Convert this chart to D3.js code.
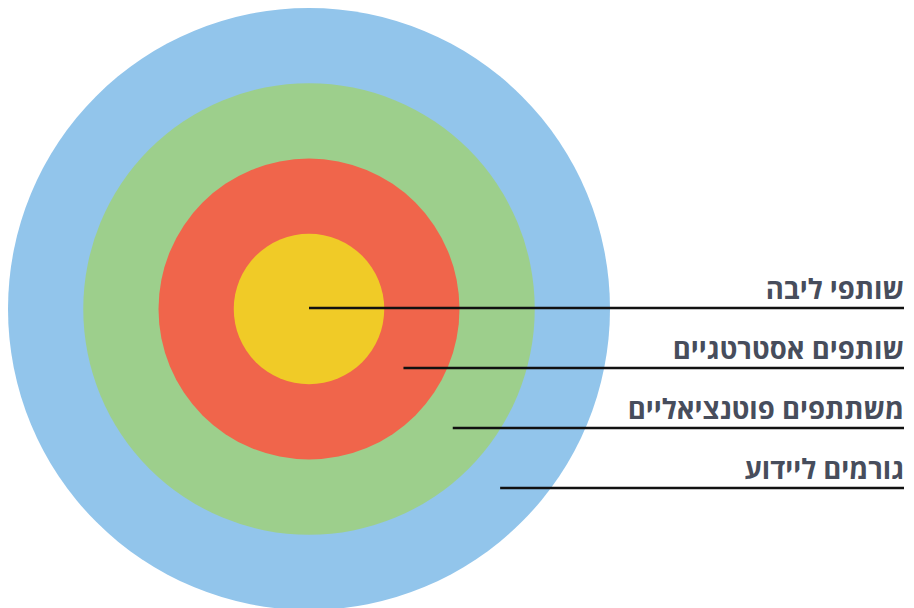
<!DOCTYPE html>
<html>
<head>
<meta charset="utf-8">
<script src="https://cdn.jsdelivr.net/npm/d3@7"></script>
<style>
  body { margin: 0; background: #fff; }
</style>
</head>
<body>
<div id="chart"></div>
<script>
// rings, from the core outwards
const labels = ['שותפי ליבה', 'שותפים אסטרטגיים', 'משתתפים פוטנציאליים', 'גורמים ליידוע']
const levels = [1, 2, 3, 4]
const colors = ['#f0cb27', '#f0654b', '#9dcf8c', '#92c5eb']

const width = 914
const height = 608
const cx = 309
const cy = 309

const svg = d3.select('#chart')
  .append('svg')
    .attr('width', width)
    .attr('height', height)

// ring radius scale
const rScale = d3.scaleLinear()
  .domain([0, 4])
  .range([0, 301])

// label rows
const rowScale = d3.scaleLinear()
  .domain([0, 3])
  .range([308, 488])

const rings = levels.map((l, i) => ({ level: l, label: labels[i], color: colors[i] }))

// draw the circles, biggest first
svg.selectAll('.ring')
    .data(rings.slice().reverse())
  .enter().append('circle')
    .attr('class', 'ring')
    .attr('cx', cx)
    .attr('cy', cy)
    .attr('r', d => rScale(d.level))
    .attr('fill', d => d.color)

// leader lines start in the middle of each ring (the core starts at the centre)
function startX(d, i) {
  let r = d.level === 1 ? 0 : rScale(d.level - 0.52)
  let dy = rowScale(i) - cy
  return cx + Math.sqrt(Math.max(0, r * r - dy * dy))
}

svg.selectAll('.leader')
    .data(rings)
  .enter().append('line')
    .attr('class', 'leader')
    .attr('x1', (d, i) => startX(d, i))
    .attr('x2', 904)
    .attr('y1', (d, i) => rowScale(i))
    .attr('y2', (d, i) => rowScale(i))
    .attr('stroke', '#111')
    .attr('stroke-width', 2.5)

svg.selectAll('.label')
    .data(rings)
  .enter().append('text')
    .attr('class', 'label')
    .attr('x', 904)
    .attr('y', (d, i) => rowScale(i) - 9)
    .attr('text-anchor', 'end')
    .style('font-family', '"Open Sans", Arial, sans-serif')
    .style('font-weight', 700)
    .style('font-size', '27.5px')
    .attr('fill', '#474d5c')
    .text(d => d.label)
</script>
</body>
</html>
